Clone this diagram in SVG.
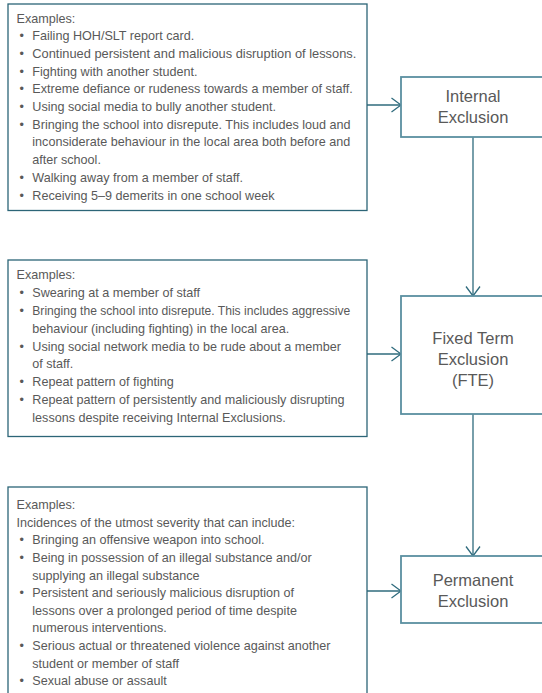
<svg xmlns="http://www.w3.org/2000/svg" width="542" height="693" viewBox="0 0 542 693">
<style>
.bg{fill:#ffffff}
.lbox{fill:#ffffff;stroke:#2c6577;stroke-width:1.3}
.rbox{fill:#ffffff;stroke:#5a8fa0;stroke-width:1.8}
.t{font-family:"Liberation Sans",Arial,sans-serif;font-size:12.6px;fill:#595959}
.lab{font-family:"Liberation Sans",Arial,sans-serif;font-size:16.5px;fill:#595959;text-anchor:middle}
.conn{fill:none;stroke:#2f6b7d;stroke-width:1.3}
</style>
<defs>
<marker id="arr" viewBox="0 0 11 16" refX="10.5" refY="8" markerWidth="11" markerHeight="16" markerUnits="userSpaceOnUse" orient="auto">
<path d="M1,1 L10.5,8 L1,15" fill="none" stroke="#2f6b7d" stroke-width="1.3"/>
</marker>
</defs>
<rect class="bg" x="0" y="0" width="542" height="693"/>

<g id="connectors">
<line class="conn" x1="367" y1="105" x2="401" y2="105" marker-end="url(#arr)"/>
<line class="conn" x1="367" y1="354" x2="401" y2="354" marker-end="url(#arr)"/>
<line class="conn" x1="367" y1="591" x2="401" y2="591" marker-end="url(#arr)"/>
<line class="conn" x1="473" y1="137" x2="473" y2="296" marker-end="url(#arr)"/>
<line class="conn" x1="473" y1="414" x2="473" y2="556" marker-end="url(#arr)"/>
</g>

<g id="examples-internal">
<rect class="lbox" x="8" y="4" width="359" height="206.5"/>
<text class="t" x="16.5" y="22.5">Examples:</text>
<text class="t" x="19.5" y="40.2">•</text><text class="t" x="32.3" y="40.2">Failing HOH/SLT report card.</text>
<text class="t" x="19.5" y="57.9">•</text><text class="t" x="32.3" y="57.9" textLength="324" lengthAdjust="spacingAndGlyphs">Continued persistent and malicious disruption of lessons.</text>
<text class="t" x="19.5" y="75.6">•</text><text class="t" x="32.3" y="75.6">Fighting with another student.</text>
<text class="t" x="19.5" y="93.3">•</text><text class="t" x="32.3" y="93.3">Extreme defiance or rudeness towards a member of staff.</text>
<text class="t" x="19.5" y="111">•</text><text class="t" x="32.3" y="111">Using social media to bully another student.</text>
<text class="t" x="19.5" y="128.7">•</text><text class="t" x="32.3" y="128.7">Bringing the school into disrepute. This includes loud and</text>
<text class="t" x="32.3" y="146.4">inconsiderate behaviour in the local area both before and</text>
<text class="t" x="32.3" y="164.1">after school.</text>
<text class="t" x="19.5" y="181.8">•</text><text class="t" x="32.3" y="181.8">Walking away from a member of staff.</text>
<text class="t" x="19.5" y="199.5">•</text><text class="t" x="32.3" y="199.5">Receiving 5–9 demerits in one school week</text>
</g>

<g id="internal-exclusion">
<rect class="rbox" x="401" y="77" width="146" height="60"/>
<text class="lab" x="473" y="102">Internal</text>
<text class="lab" x="473" y="123.3">Exclusion</text>
</g>

<g id="examples-fte">
<rect class="lbox" x="8" y="260" width="359" height="176.5"/>
<text class="t" x="16.5" y="279.3">Examples:</text>
<text class="t" x="19.5" y="297.1">•</text><text class="t" x="32.3" y="297.1">Swearing at a member of staff</text>
<text class="t" x="19.5" y="314.9">•</text><text class="t" x="32.3" y="314.9" textLength="318" lengthAdjust="spacingAndGlyphs">Bringing the school into disrepute. This includes aggressive</text>
<text class="t" x="32.3" y="332.7">behaviour (including fighting) in the local area.</text>
<text class="t" x="19.5" y="350.5">•</text><text class="t" x="32.3" y="350.5">Using social network media to be rude about a member</text>
<text class="t" x="32.3" y="368.3">of staff.</text>
<text class="t" x="19.5" y="386.1">•</text><text class="t" x="32.3" y="386.1">Repeat pattern of fighting</text>
<text class="t" x="19.5" y="403.9">•</text><text class="t" x="32.3" y="403.9">Repeat pattern of persistently and maliciously disrupting</text>
<text class="t" x="32.3" y="421.7">lessons despite receiving Internal Exclusions.</text>
</g>

<g id="fixed-term-exclusion">
<rect class="rbox" x="401" y="296" width="146" height="118"/>
<text class="lab" x="473" y="343.5">Fixed Term</text>
<text class="lab" x="473" y="364.5">Exclusion</text>
<text class="lab" x="473" y="385.5">(FTE)</text>
</g>

<g id="examples-permanent">
<rect class="lbox" x="8" y="487" width="359" height="215"/>
<text class="t" x="16.5" y="509.2">Examples:</text>
<text class="t" x="16.5" y="526.8">Incidences of the utmost severity that can include:</text>
<text class="t" x="19.5" y="544.4">•</text><text class="t" x="32.3" y="544.4">Bringing an offensive weapon into school.</text>
<text class="t" x="19.5" y="562">•</text><text class="t" x="32.3" y="562">Being in possession of an illegal substance and/or</text>
<text class="t" x="32.3" y="579.6">supplying an illegal substance</text>
<text class="t" x="19.5" y="597.2">•</text><text class="t" x="32.3" y="597.2">Persistent and seriously malicious disruption of</text>
<text class="t" x="32.3" y="614.8">lessons over a prolonged period of time despite</text>
<text class="t" x="32.3" y="632.4">numerous interventions.</text>
<text class="t" x="19.5" y="650">•</text><text class="t" x="32.3" y="650">Serious actual or threatened violence against another</text>
<text class="t" x="32.3" y="667.6">student or member of staff</text>
<text class="t" x="19.5" y="685.2">•</text><text class="t" x="32.3" y="685.2">Sexual abuse or assault</text>
</g>

<g id="permanent-exclusion">
<rect class="rbox" x="401" y="556" width="146" height="67"/>
<text class="lab" x="473" y="585.5">Permanent</text>
<text class="lab" x="473" y="606.5">Exclusion</text>
</g>
</svg>
